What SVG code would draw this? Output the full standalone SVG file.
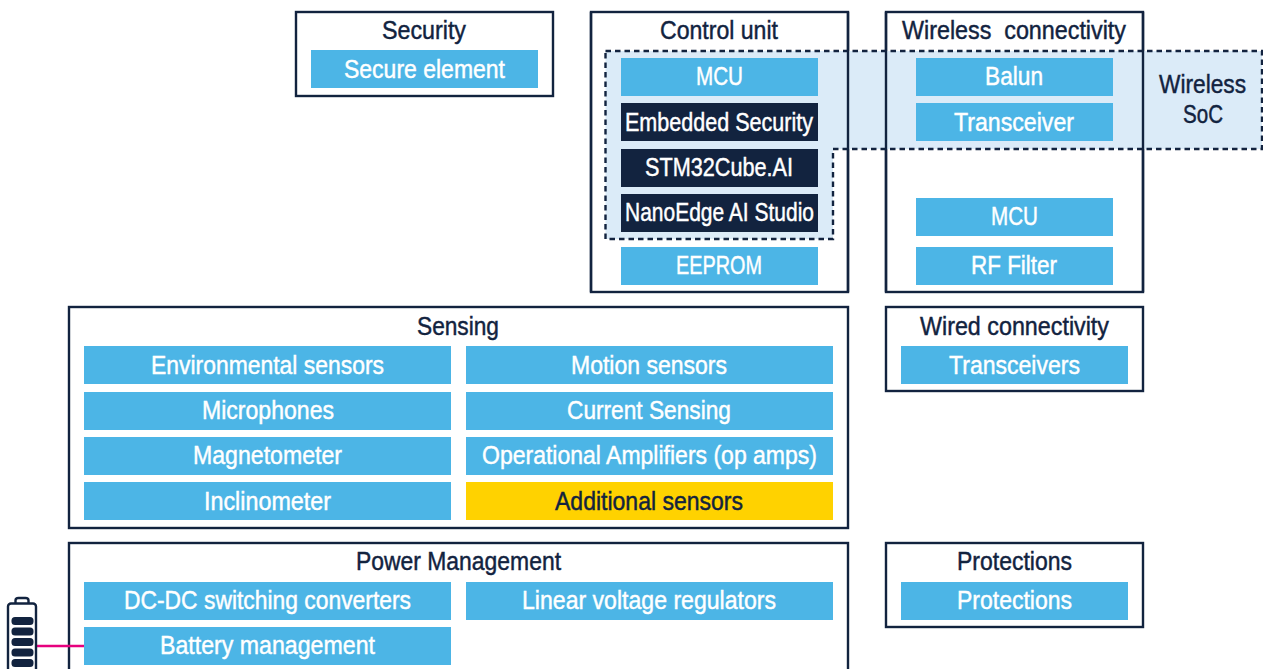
<svg xmlns="http://www.w3.org/2000/svg" width="1263" height="669" viewBox="0 0 1263 669">
<style>
text{font-family:"Liberation Sans",Arial,sans-serif;font-size:26px}
.box{fill:#fff;stroke:#12233f;stroke-width:2.4}
.b{fill:#4cb5e6}.d{fill:#12233f}.y{fill:#ffd200}
.w{fill:#fff;stroke:#fff;stroke-width:.45}.n{fill:#12233f;stroke:#12233f;stroke-width:.45}
.cell{fill:#12233f}
</style>
<g id="frames">
<g id="security"><rect class="box" x="296" y="12" width="257" height="84"/><text class="n" x="382" y="39" textLength="84" lengthAdjust="spacingAndGlyphs">Security</text></g>
<g id="control-unit"><rect class="box" x="591" y="12" width="257" height="280"/><text class="n" x="660" y="39" textLength="118" lengthAdjust="spacingAndGlyphs">Control unit</text></g>
<g id="wireless-connectivity"><rect class="box" x="886" y="12" width="257" height="280"/><text class="n" x="902" y="39" textLength="224" lengthAdjust="spacingAndGlyphs" xml:space="preserve">Wireless  connectivity</text></g>
<g id="sensing"><rect class="box" x="69" y="307" width="779" height="221"/><text class="n" x="417" y="335" textLength="82" lengthAdjust="spacingAndGlyphs">Sensing</text></g>
<g id="wired-connectivity"><rect class="box" x="886" y="307" width="257" height="84"/><text class="n" x="920" y="335" textLength="189" lengthAdjust="spacingAndGlyphs">Wired connectivity</text></g>
<g id="power-management"><rect class="box" x="69" y="543" width="779" height="140"/><text class="n" x="356" y="570" textLength="205" lengthAdjust="spacingAndGlyphs">Power Management</text></g>
<g id="protections"><rect class="box" x="886" y="543" width="257" height="84"/><text class="n" x="957" y="570" textLength="115" lengthAdjust="spacingAndGlyphs">Protections</text></g>
</g>
<g id="wireless-soc">
<path d="M605.500 51H1262V149H833V239H605.500Z" fill="#dbebf8"/>
<path d="M605.500 51H1262V149H833V239H605.500Z" fill="none" stroke="#12233f" stroke-width="2.400" stroke-dasharray="5.500 4"/>
<path d="M591 12V292M848 12V292M886 12V292M1143 12V292" fill="none" stroke="#12233f" stroke-width="2.400"/>
<text class="n" x="1159" y="93" textLength="87" lengthAdjust="spacingAndGlyphs">Wireless</text>
<text class="n" x="1183" y="123" textLength="40" lengthAdjust="spacingAndGlyphs">SoC</text>
</g>
<g id="connectors"><path d="M36 646H84" fill="none" stroke="#e6007e" stroke-width="2.400"/></g>
<g id="secure-element"><rect class="b" x="311" y="50" width="227" height="38"/><text class="w" x="344" y="78" textLength="161" lengthAdjust="spacingAndGlyphs">Secure element</text></g>
<g id="mcu-1"><rect class="b" x="621" y="58" width="197" height="38"/><text class="w" x="696" y="85" textLength="47" lengthAdjust="spacingAndGlyphs">MCU</text></g>
<g id="embedded-security"><rect class="d" x="621" y="103" width="197" height="38"/><text class="w" x="625" y="131" textLength="188" lengthAdjust="spacingAndGlyphs">Embedded Security</text></g>
<g id="stm32cube-ai"><rect class="d" x="621" y="149" width="197" height="38"/><text class="w" x="645" y="176" textLength="148" lengthAdjust="spacingAndGlyphs">STM32Cube.AI</text></g>
<g id="nanoedge"><rect class="d" x="621" y="194" width="197" height="38"/><text class="w" x="625" y="221" textLength="189" lengthAdjust="spacingAndGlyphs">NanoEdge AI Studio</text></g>
<g id="eeprom"><rect class="b" x="621" y="247" width="197" height="38"/><text class="w" x="676" y="274" textLength="86" lengthAdjust="spacingAndGlyphs">EEPROM</text></g>
<g id="balun"><rect class="b" x="916" y="58" width="197" height="38"/><text class="w" x="985" y="85" textLength="58" lengthAdjust="spacingAndGlyphs">Balun</text></g>
<g id="transceiver"><rect class="b" x="916" y="103" width="197" height="38"/><text class="w" x="954" y="131" textLength="120" lengthAdjust="spacingAndGlyphs">Transceiver</text></g>
<g id="mcu-2"><rect class="b" x="916" y="198" width="197" height="38"/><text class="w" x="991" y="225" textLength="47" lengthAdjust="spacingAndGlyphs">MCU</text></g>
<g id="rf-filter"><rect class="b" x="916" y="247" width="197" height="38"/><text class="w" x="971" y="274" textLength="86" lengthAdjust="spacingAndGlyphs">RF Filter</text></g>
<g id="environmental"><rect class="b" x="84" y="346" width="367" height="38"/><text class="w" x="151" y="374" textLength="233" lengthAdjust="spacingAndGlyphs">Environmental sensors</text></g>
<g id="motion"><rect class="b" x="466" y="346" width="367" height="38"/><text class="w" x="571" y="374" textLength="156" lengthAdjust="spacingAndGlyphs">Motion sensors</text></g>
<g id="microphones"><rect class="b" x="84" y="392" width="367" height="38"/><text class="w" x="202" y="419" textLength="132" lengthAdjust="spacingAndGlyphs">Microphones</text></g>
<g id="current-sensing"><rect class="b" x="466" y="392" width="367" height="38"/><text class="w" x="567" y="419" textLength="164" lengthAdjust="spacingAndGlyphs">Current Sensing</text></g>
<g id="magnetometer"><rect class="b" x="84" y="437" width="367" height="38"/><text class="w" x="193" y="464" textLength="149" lengthAdjust="spacingAndGlyphs">Magnetometer</text></g>
<g id="op-amps"><rect class="b" x="466" y="437" width="367" height="38"/><text class="w" x="482" y="464" textLength="335" lengthAdjust="spacingAndGlyphs">Operational Amplifiers (op amps)</text></g>
<g id="inclinometer"><rect class="b" x="84" y="482" width="367" height="38"/><text class="w" x="204" y="510" textLength="127" lengthAdjust="spacingAndGlyphs">Inclinometer</text></g>
<g id="additional-sensors"><rect class="y" x="466" y="482" width="367" height="38"/><text class="n" x="555" y="510" textLength="188" lengthAdjust="spacingAndGlyphs">Additional sensors</text></g>
<g id="transceivers"><rect class="b" x="901" y="346" width="227" height="38"/><text class="w" x="949" y="374" textLength="131" lengthAdjust="spacingAndGlyphs">Transceivers</text></g>
<g id="dcdc"><rect class="b" x="84" y="582" width="367" height="38"/><text class="w" x="124" y="609" textLength="287" lengthAdjust="spacingAndGlyphs">DC-DC switching converters</text></g>
<g id="linear"><rect class="b" x="466" y="582" width="367" height="38"/><text class="w" x="522" y="609" textLength="254" lengthAdjust="spacingAndGlyphs">Linear voltage regulators</text></g>
<g id="battery-management"><rect class="b" x="84" y="627" width="367" height="38"/><text class="w" x="160" y="654" textLength="215" lengthAdjust="spacingAndGlyphs">Battery management</text></g>
<g id="protections-item"><rect class="b" x="901" y="582" width="227" height="38"/><text class="w" x="957" y="609" textLength="115" lengthAdjust="spacingAndGlyphs">Protections</text></g>
<g id="battery">
<path d="M15.500 603V600.500Q15.500 598 18.500 598H25.500Q28.500 598 28.500 600.500V603" fill="none" stroke="#12233f" stroke-width="2.400"/>
<rect x="8" y="603.500" width="28" height="80" rx="3" fill="#fff" stroke="#12233f" stroke-width="2.400"/>
<rect class="cell" x="11.500" y="617" width="22" height="8" rx="3.500"/>
<rect class="cell" x="11.500" y="627.500" width="22" height="8" rx="3.500"/>
<rect class="cell" x="11.500" y="638" width="22" height="8" rx="3.500"/>
<rect class="cell" x="11.500" y="648.500" width="22" height="8" rx="3.500"/>
<rect class="cell" x="11.500" y="659" width="22" height="8" rx="3.500"/>
</g>
</svg>
